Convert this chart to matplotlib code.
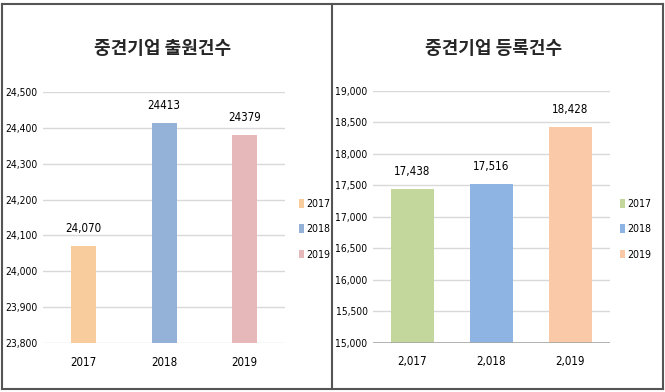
import matplotlib
matplotlib.use("Agg")
import matplotlib.pyplot as plt
from matplotlib.patches import Patch
from matplotlib.lines import Line2D

plt.rcParams['font.family'] = ['DejaVu Sans']
plt.rcParams['font.stretch'] = 'condensed'

years = ['2017', '2018', '2019']

# 출원건수
apply_title = '중견기업 출원건수'
apply_vals = [24070, 24413, 24379]
apply_labels = ['24,070', '24413', '24379']
apply_xticks = ['2017', '2018', '2019']
apply_colors = ['#F9CC9E', '#94B2D8', '#E6B8BA']

# 등록건수
reg_title = '중견기업 등록건수'
reg_vals = [17438, 17516, 18428]
reg_labels = ['17,438', '17,516', '18,428']
reg_xticks = ['2,017', '2,018', '2,019']
reg_colors = ['#C3D79C', '#8DB4E2', '#F9C9A8']

fig = plt.figure(figsize=(6.65, 3.92), dpi=100)
fig.patch.set_facecolor('white')

kr = ['Noto Sans CJK KR', 'DejaVu Sans']
fs = 8.3


def draw(ax, vals, labels, xticks, colors, ylim, step, width, title, tx, leg_x):
    x = range(len(vals))
    bars = ax.bar(x, vals, width=width, color=colors, zorder=3)
    ax.set_ylim(*ylim)
    ax.set_xlim(-0.5, len(vals) - 0.5)
    ticks = list(range(ylim[0], ylim[1] + 1, step))
    ax.set_yticks(ticks)
    ax.set_yticklabels(['{:,}'.format(t) for t in ticks], fontsize=7.4)
    ax.set_xticks(list(x))
    ax.set_xticklabels(xticks, fontsize=fs)
    ax.tick_params(axis='y', length=0, pad=4)
    ax.tick_params(axis='x', length=0, pad=9)
    ax.grid(axis='y', color='#D9D9D9', linewidth=1, zorder=0)
    for s in ax.spines.values():
        s.set_visible(False)
    for b, lab in zip(bars, labels):
        ax.annotate(lab, (b.get_x() + b.get_width() / 2, b.get_height()),
                    xytext=(0, 8), textcoords='offset points',
                    ha='center', va='bottom', fontsize=fs)
    fig.text(tx, 0.877, title, ha='center', va='center', fontsize=13,
             family=kr, weight='bold', color='#262626')
    handles = [Patch(facecolor=c) for c in colors]
    fig.legend(handles, years, loc='center left', bbox_to_anchor=(leg_x, 0.415),
               frameon=False, fontsize=7.6, handlelength=0.5, handleheight=0.85,
               handletextpad=0.2, labelspacing=1.45, borderpad=0)


ax1 = fig.add_axes([0.0647, 0.125, 0.364, 0.640])
draw(ax1, apply_vals, apply_labels, apply_xticks, apply_colors,
     (23800, 24500), 100, 0.31, apply_title, 0.245, 0.441)

ax2 = fig.add_axes([0.561, 0.125, 0.356, 0.643])
draw(ax2, reg_vals, reg_labels, reg_xticks, reg_colors,
     (15000, 19000), 500, 0.54, reg_title, 0.742, 0.924)
ax2.axhline(15000, color='#A6A6A6', linewidth=1.2, zorder=4)

# panel frames
for xs, ys in [([0.003, 0.997], [0.990, 0.990]), ([0.003, 0.997], [0.008, 0.008]),
               ([0.003, 0.003], [0.008, 0.990]), ([0.997, 0.997], [0.008, 0.990]),
               ([0.4985, 0.4985], [0.008, 0.990])]:
    fig.add_artist(Line2D(xs, ys, transform=fig.transFigure, color='#555555', linewidth=1.5))

fig.savefig('out.png', dpi=100)
plt.close(fig)
